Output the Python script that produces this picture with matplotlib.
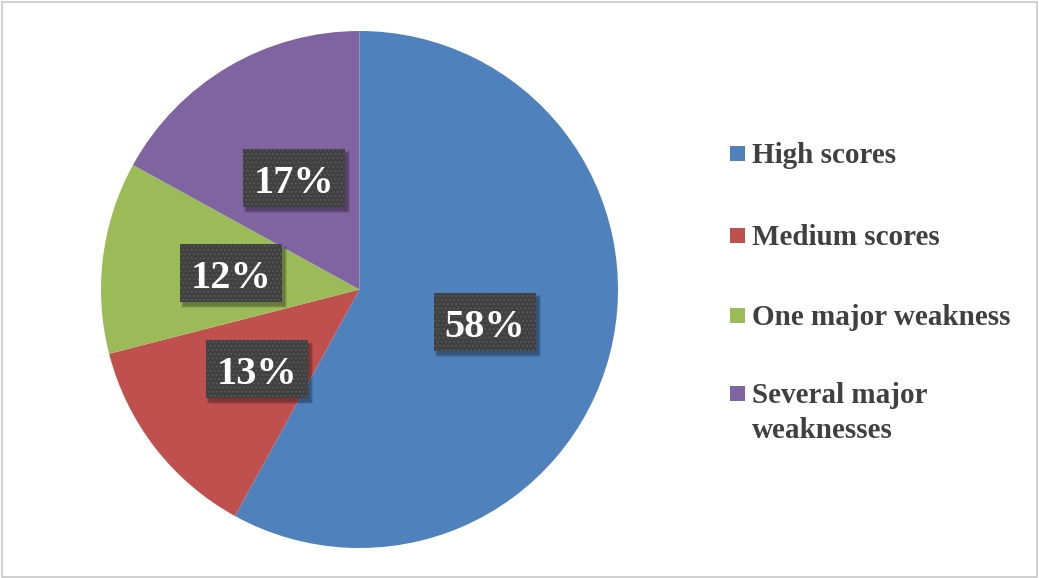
import matplotlib
matplotlib.use("Agg")
import matplotlib.pyplot as plt
from matplotlib.patches import Rectangle

categories = ["High scores", "Medium scores", "One major weakness", "Several major\nweaknesses"]
values = [58, 13, 12, 17]
colors = ["#4F81BD", "#C0504D", "#9BBB59", "#8064A2"]

W, H = 1039, 578
fig = plt.figure(figsize=(W / 100, H / 100), dpi=100)
fig.patch.set_facecolor("white")

# pie axes: center (359.5, 289.5) px, radius 258.5 px
cx, cy, R = 359.5, 289.5, 258.5
ax = fig.add_axes([(cx - R) / W, (H - cy - R) / H, 2 * R / W, 2 * R / H])
wedges, texts, autotexts = ax.pie(
    values, colors=colors, startangle=90, counterclock=False,
    autopct="%d%%", pctdistance=0.5, radius=1,
    wedgeprops=dict(linewidth=0),
    textprops=dict(color="white", fontsize=29, fontweight="bold",
                   family="Liberation Serif"),
)
ax.set_xlim(-1, 1)
ax.set_ylim(-1, 1)
ax.set_aspect("equal")

px = 2.0 / (2 * R)  # data units per pixel
bw, bh = 102 * px, 58 * px
for t in autotexts:
    t.set_va("center_baseline")
    x, y = t.get_position()
    # soft drop shadow
    for i, a in enumerate([0.10, 0.12, 0.15]):
        g = (2 - i) * px
        ax.add_patch(Rectangle((x - bw / 2 + 3 * px - g, y - bh / 2 - 4 * px - g),
                               bw + 2 * g, bh + 2 * g, facecolor="black",
                               alpha=a, linewidth=0, zorder=3))
    ax.add_patch(Rectangle((x - bw / 2, y - bh / 2), bw, bh, facecolor="#404040",
                           edgecolor="#555555", hatch="....", linewidth=0, zorder=4))
    t.set_zorder(5)
    t.set_position((x, y - 1 * px))

# legend (manual, to keep the handle aligned with the first line)
baselines = [163, 245, 325, 403]
for lab, col, b in zip(categories, colors, baselines):
    fig.patches.append(Rectangle((730 / W, (H - b + 2.5) / H), 15 / W, 15 / H,
                                 facecolor=col, linewidth=0,
                                 transform=fig.transFigure, figure=fig))
    first = lab.split("\n")[0]
    rest = lab.split("\n")[1:]
    fig.text(752 / W, (H - b) / H, first, fontsize=21, fontweight="bold",
             family="Liberation Serif", color="#404040", va="baseline", ha="left")
    for j, r in enumerate(rest):
        fig.text(752 / W, (H - b - 35 * (j + 1)) / H, r, fontsize=21, fontweight="bold",
                 family="Liberation Serif", color="#404040", va="baseline", ha="left")

# outer frame
fig.patches.append(Rectangle((2 / W, 1.5 / H), (W - 4.5) / W, (H - 3.5) / H,
                             facecolor="none", edgecolor="#c8c8c8", linewidth=1.2,
                             transform=fig.transFigure, figure=fig))

fig.savefig("out.png", dpi=100, facecolor="white")
